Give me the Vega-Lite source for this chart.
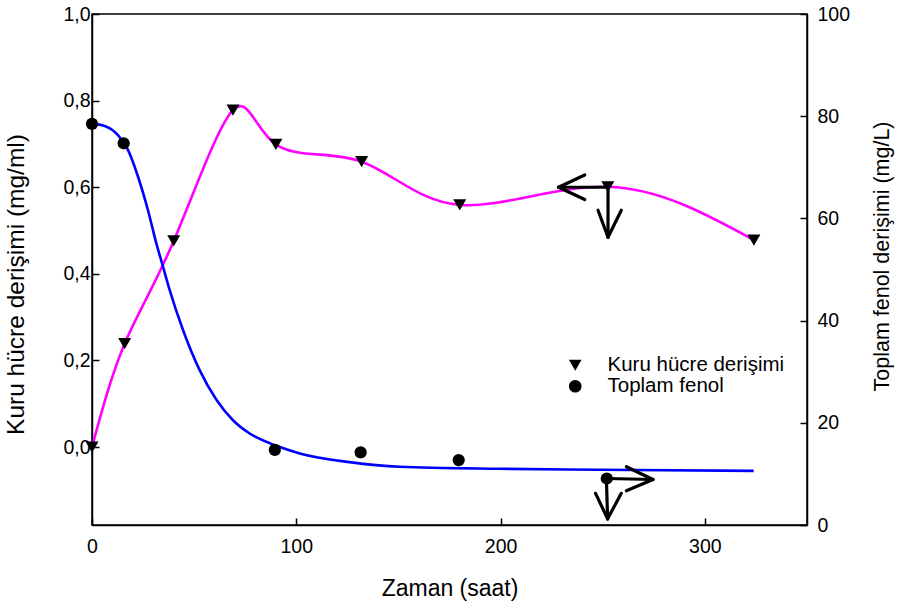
{
  "$schema": "https://vega.github.io/schema/vega-lite/v6.json",
  "width": 715,
  "height": 511,
  "autosize": "none",
  "padding": {"left": 92, "top": 14, "right": 97, "bottom": 87},
  "background": "white",
  "config": {
    "font": "Liberation Sans",
    "view": {"stroke": "black", "strokeWidth": 1.5},
    "axis": {
      "domainColor": "black", "domainWidth": 1.5,
      "tickColor": "black", "tickWidth": 1.5, "tickSize": -7,
      "labelColor": "black", "titleColor": "black",
      "labelFontSize": 19.5, "titleFontSize": 22, "titleFontWeight": "normal",
      "labelFont": "Liberation Sans", "titleFont": "Liberation Sans",
      "labelFlush": false,
      "grid": false
    },
    "legend": {
      "labelFont": "Liberation Sans", "labelFontSize": 20.5, "labelColor": "black", "labelLimit": 0
    }
  },
  "datasets": {
    "kuru": [
      {"saat": 0, "kuru": 0.0, "seri": "Kuru hücre derişimi"},
      {"saat": 16, "kuru": 0.239, "seri": "Kuru hücre derişimi"},
      {"saat": 40, "kuru": 0.476, "seri": "Kuru hücre derişimi"},
      {"saat": 69, "kuru": 0.778, "seri": "Kuru hücre derişimi"},
      {"saat": 90, "kuru": 0.699, "seri": "Kuru hücre derişimi"},
      {"saat": 132, "kuru": 0.659, "seri": "Kuru hücre derişimi"},
      {"saat": 180, "kuru": 0.559, "seri": "Kuru hücre derişimi"},
      {"saat": 252.5, "kuru": 0.601, "seri": "Kuru hücre derişimi"},
      {"saat": 324, "kuru": 0.478, "seri": "Kuru hücre derişimi"}
    ],
    "fenol": [
      {"saat": 0, "fenol": 78.5, "seri": "Toplam fenol"},
      {"saat": 15.5, "fenol": 74.7, "seri": "Toplam fenol"},
      {"saat": 89.5, "fenol": 14.7, "seri": "Toplam fenol"},
      {"saat": 131.5, "fenol": 14.2, "seri": "Toplam fenol"},
      {"saat": 179.5, "fenol": 12.7, "seri": "Toplam fenol"},
      {"saat": 252, "fenol": 9.1, "seri": "Toplam fenol"}
    ],
    "fenolfit": [
      {"saat": 0, "fit": 78.5},
      {"saat": 6.2, "fit": 78.1},
      {"saat": 12.7, "fit": 76.3},
      {"saat": 17.6, "fit": 73.4},
      {"saat": 22.5, "fit": 68.2},
      {"saat": 27.4, "fit": 61.6},
      {"saat": 31.5, "fit": 55.1},
      {"saat": 34.8, "fit": 50.5},
      {"saat": 38.0, "fit": 46.0},
      {"saat": 44.5, "fit": 38.2},
      {"saat": 52.7, "fit": 30.3},
      {"saat": 60.9, "fit": 24.5},
      {"saat": 69.0, "fit": 20.5},
      {"saat": 77.2, "fit": 17.9},
      {"saat": 90.3, "fit": 15.5},
      {"saat": 101.7, "fit": 14.0},
      {"saat": 126.1, "fit": 12.3},
      {"saat": 150.6, "fit": 11.4},
      {"saat": 199.5, "fit": 11.0},
      {"saat": 248.5, "fit": 10.8},
      {"saat": 323.9, "fit": 10.6}
    ],
    "oklar": [
      {"x": 252.6, "y": 66.1, "x2": 228.4, "y2": 66.1},
      {"x": 228.4, "y": 66.1, "x2": 241.2, "y2": 68.5},
      {"x": 228.4, "y": 66.1, "x2": 241.2, "y2": 63.7},
      {"x": 252.6, "y": 66.1, "x2": 252.6, "y2": 56.3},
      {"x": 252.6, "y": 56.3, "x2": 247.7, "y2": 61.6},
      {"x": 252.6, "y": 56.3, "x2": 259.1, "y2": 61.6},
      {"x": 251.8, "y": 9.1, "x2": 274.6, "y2": 8.9},
      {"x": 274.6, "y": 8.9, "x2": 261.6, "y2": 11.4},
      {"x": 274.6, "y": 8.9, "x2": 261.6, "y2": 6.7},
      {"x": 251.8, "y": 9.1, "x2": 252.4, "y2": 1.2},
      {"x": 252.4, "y": 1.2, "x2": 246.5, "y2": 6.2},
      {"x": 252.4, "y": 1.2, "x2": 259.1, "y2": 6.2}
    ]
  },
  "layer": [
    {
      "layer": [
        {
          "data": {"name": "kuru"},
          "mark": {"type": "line", "color": "#ff00ff", "strokeWidth": 2.6, "interpolate": "natural"},
          "encoding": {
            "x": {"field": "saat", "type": "quantitative",
                  "scale": {"domain": [0, 350], "nice": false, "zero": false},
                  "axis": {"values": [0, 100, 200, 300], "title": "Zaman (saat)", "labelPadding": 19, "titlePadding": 22, "titleFontSize": 23}},
            "y": {"field": "kuru", "type": "quantitative",
                  "scale": {"domain": [-0.18, 1.0], "nice": false, "zero": false},
                  "axis": {"orient": "left", "values": [0, 0.2, 0.4, 0.6, 0.8, 1.0],
                           "labelExpr": "replace(format(datum.value, '.1f'), '.', ',')",
                           "labelPadding": 9, "title": "Kuru hücre derişimi (mg/ml)",
                           "titleFontSize": 24.5, "titleX": -64, "titleY": 270, "titleAngle": 270, "titleBaseline": "bottom", "titleAnchor": null}}
          }
        },
        {
          "data": {"name": "kuru"},
          "mark": {"type": "point", "filled": true, "color": "black", "opacity": 1, "size": 170},
          "encoding": {
            "x": {"field": "saat", "type": "quantitative"},
            "y": {"field": "kuru", "type": "quantitative"},
            "shape": {"field": "seri", "type": "nominal",
                      "scale": {"domain": ["Kuru hücre derişimi", "Toplam fenol"], "range": ["triangle-down", "circle"]},
                      "legend": {"title": null, "orient": "none", "legendX": 473, "legendY": 341,
                                 "symbolFillColor": "black", "symbolStrokeColor": "black", "symbolOpacity": 1,
                                 "symbolSize": 160, "labelOffset": 22, "rowPadding": -1, "symbolStrokeWidth": 0}}
          }
        }
      ]
    },
    {
      "layer": [
        {
          "data": {"name": "fenolfit"},
          "mark": {"type": "line", "color": "#0000ff", "strokeWidth": 2.6, "interpolate": "monotone"},
          "encoding": {
            "x": {"field": "saat", "type": "quantitative"},
            "y": {"field": "fit", "type": "quantitative",
                  "scale": {"domain": [0, 100], "nice": false, "zero": false},
                  "axis": {"orient": "right", "values": [0, 20, 40, 60, 80, 100],
                           "labelPadding": 17, "title": "Toplam fenol derişimi (mg/L)",
                           "titleFontSize": 21.5, "titleX": 86, "titleY": 242, "titleAngle": 270, "titleBaseline": "bottom", "titleAnchor": null}}
          }
        },
        {
          "data": {"name": "fenol"},
          "mark": {"type": "point", "filled": true, "color": "black", "opacity": 1, "size": 150},
          "encoding": {
            "x": {"field": "saat", "type": "quantitative"},
            "y": {"field": "fenol", "type": "quantitative"},
            "shape": {"field": "seri", "type": "nominal"}
          }
        },
        {
          "data": {"name": "oklar"},
          "mark": {"type": "rule", "color": "black", "strokeWidth": 3.2, "strokeCap": "round"},
          "encoding": {
            "x": {"field": "x", "type": "quantitative"},
            "y": {"field": "y", "type": "quantitative"},
            "x2": {"field": "x2"},
            "y2": {"field": "y2"}
          }
        }
      ]
    }
  ],
  "resolve": {"scale": {"y": "independent"}}
}
